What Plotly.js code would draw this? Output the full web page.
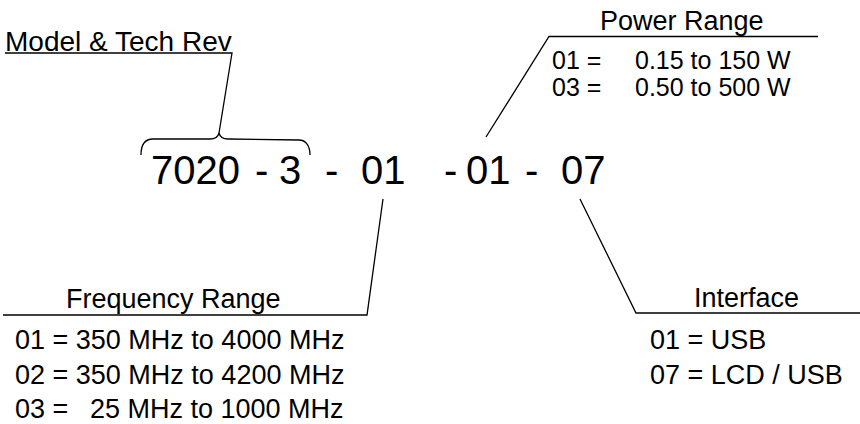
<!DOCTYPE html>
<html>
<head>
<meta charset="utf-8">
<script src="https://cdn.plot.ly/plotly-3.0.1.min.js"></script>
<style>
  html, body { margin: 0; padding: 0; background: #fff; }
  #chart { width: 860px; height: 424px; }
</style>
</head>
<body>
<div id="chart"></div>
<script>
// ---- content ----
const titles = ["Model & Tech Rev", "Power Range", "Frequency Range", "Interface"];
const codeParts = ["7020", "-", "3", "-", "01", "-", "01", "-", "07"];
const powerCodes = ["01", "03"];
const powerRanges = ["0.15 to 150 W", "0.50 to 500 W"];
const freqCodes = ["01", "02", "03"];
const freqRanges = ["350 MHz to 4000 MHz", "350 MHz to 4200 MHz", "25 MHz to 1000 MHz"];
const ifaceCodes = ["01", "07"];
const ifaceNames = ["USB", "LCD / USB"];

// ---- layout geometry (diagram coordinates = pixels) ----
const codeX = [195, 261, 290, 331, 383, 450, 488, 531, 583];
const codeY = 170;
const powerRowY = [60, 87];
const freqRowY = [340, 374.5, 408.5];
const ifaceRowY = [340, 374.5];

const FONT = "Liberation Sans, Arial, Helvetica, sans-serif";
const ann = [];
function txt(x, y, text, size, xanchor) {
  ann.push({ x: x, y: y, xref: "x", yref: "y", text: text, showarrow: false,
             xanchor: xanchor || "center", yanchor: "middle",
             font: { family: FONT, size: size, color: "#000" } });
}

// titles
txt(3, 41, titles[0], 28, "left");
txt(682, 21, titles[1], 27, "center");
txt(173, 299, titles[2], 27, "center");
txt(746, 298, titles[3], 27, "center");

// main code
codeParts.forEach((p, i) => txt(codeX[i], codeY, p, 40, "center"));

// power range items
powerCodes.forEach((c, i) => {
  txt(550, powerRowY[i], c + " =", 25, "left");
  txt(633, powerRowY[i], powerRanges[i], 25, "left");
});
// frequency items: single-spaced rows run from the left; the padded row keeps
// its value right-aligned with the rows above it
freqCodes.forEach((c, i) => {
  if (freqRanges[i].startsWith("350")) {
    txt(13, freqRowY[i], c + " = " + freqRanges[i], 27, "left");
  } else {
    txt(13, freqRowY[i], c + " =", 27, "left");
    txt(346, freqRowY[i], freqRanges[i], 27, "right");
  }
});
// interface items
ifaceCodes.forEach((c, i) => txt(648, ifaceRowY[i], c + " = " + ifaceNames[i], 27, "left"));

const LINE = { color: "#000", width: 1.3 };
function path(d) {
  return { type: "path", xref: "x", yref: "y", path: d, line: LINE, fillcolor: "rgba(0,0,0,0)" };
}
const shapes = [
  // Model & Tech Rev underline + leader
  path("M 5,53 L 232,53 L 219,133"),
  // brace
  path("M 141,155 C 141,146 144,139 153,139 L 210,139 C 215,139 218,137 219,133 " +
       "C 220,137 223,139 228,139 L 299,140 C 306,140 310,146 310,155"),
  // power range leader + underline
  path("M 486,137 L 549,36.5 L 818,36.5"),
  // frequency range leader + underline
  path("M 383,199 L 367,315 L 3,315"),
  // interface leader + underline
  path("M 580,199 L 636,313 L 860,313")
];

const layout = {
  width: 860, height: 424,
  margin: { l: 0, r: 0, t: 0, b: 0 },
  paper_bgcolor: "#fff", plot_bgcolor: "#fff",
  showlegend: false,
  xaxis: { range: [0, 860], visible: false, fixedrange: true },
  yaxis: { range: [424, 0], visible: false, fixedrange: true },
  annotations: ann,
  shapes: shapes
};

Plotly.newPlot("chart", [{ x: [], y: [], type: "scatter", mode: "markers" }], layout,
  { displayModeBar: false, staticPlot: true });
</script>
</body>
</html>
